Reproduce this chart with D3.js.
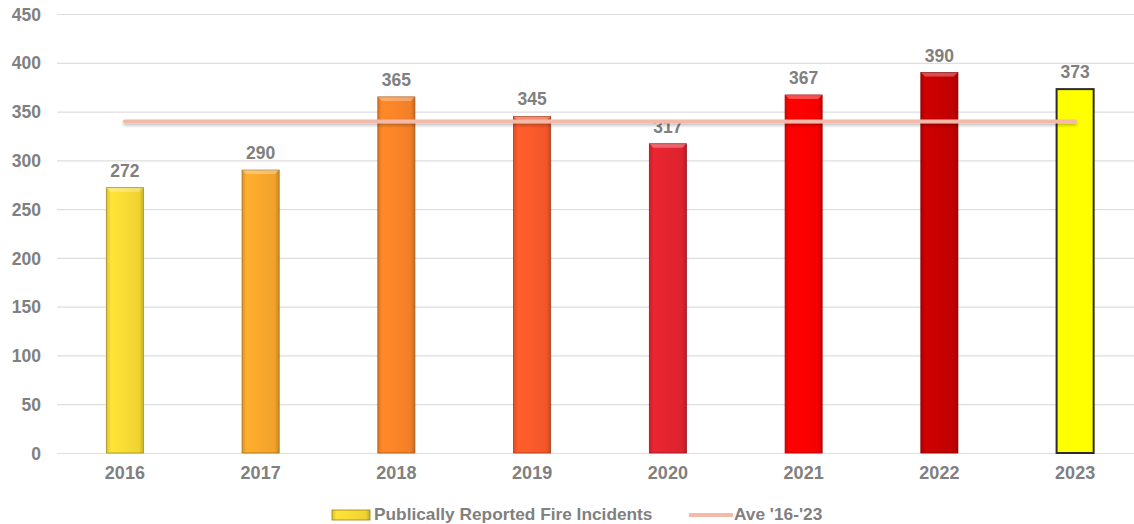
<!DOCTYPE html>
<html>
<head>
<meta charset="utf-8">
<script src="https://cdn.jsdelivr.net/npm/d3@7"></script>
<style>
  body { margin: 0; background: #fff; }
  svg text { font-family: "Liberation Sans", Arial, sans-serif; font-weight: bold; fill: #808080; }
</style>
</head>
<body>
<div class="chart"></div>
<script>
// data
const years = ["2016", "2017", "2018", "2019", "2020", "2021", "2022", "2023"];
const incidents = [272, 290, 365, 345, 317, 367, 390, 373];
const barColors = ["#f8dc34", "#f9a82c", "#fa8428", "#fb5a2a", "#e42430", "#fe0000", "#c80000", "#ffff00"];
const yTicks = [0, 50, 100, 150, 200, 250, 300, 350, 400, 450];
const seriesNames = ["Publically Reported Fire Incidents", "Ave '16-'23"];

const average = d3.mean(incidents);

const width = 1134, height = 524;
const plot = {left: 57, right: 1143, top: 14, bottom: 453};

const svg = d3.select(".chart").append("svg")
    .attr("width", width)
    .attr("height", height);

const x = d3.scaleBand()
    .domain(years)
    .range([plot.left, plot.right])
    .paddingInner(0.727)
    .paddingOuter(0.3635);

const y = d3.scaleLinear()
    .domain([0, 450])
    .range([plot.bottom, plot.top]);

const defs = svg.append("defs");

// cylinder-ish shading for each bar
barColors.forEach((c, i) => {
    const g = defs.append("linearGradient")
        .attr("id", "bar" + i)
        .attr("x1", "0%").attr("x2", "100%");
    const base = d3.color(c);
    g.append("stop").attr("offset", "0%").attr("stop-color", base.darker(0.35));
    g.append("stop").attr("offset", "12%").attr("stop-color", base.brighter(0.1));
    g.append("stop").attr("offset", "50%").attr("stop-color", base);
    g.append("stop").attr("offset", "88%").attr("stop-color", base.darker(0.1));
    g.append("stop").attr("offset", "100%").attr("stop-color", base.darker(0.6));
});

// a horizontal line has a zero-height bbox, so the filter region is in user space
const shadow = defs.append("filter").attr("id", "lineShadow")
    .attr("filterUnits", "userSpaceOnUse")
    .attr("x", 0).attr("y", 0).attr("width", width).attr("height", height);
shadow.append("feDropShadow")
    .attr("dx", 0).attr("dy", 2).attr("stdDeviation", 1.5)
    .attr("flood-color", "#000").attr("flood-opacity", 0.25);

// gridlines + y labels
const yAxis = d3.axisLeft(y)
    .tickValues(yTicks)
    .tickSize(-(width - plot.left))
    .tickPadding(16);

svg.append("g")
    .attr("class", "y axis")
    .attr("transform", "translate(" + plot.left + ",0)")
    .call(yAxis)
    .call(g => g.select(".domain").remove())
    .call(g => g.selectAll(".tick line").attr("stroke", "#dedede").attr("stroke-width", 1.2))
    .call(g => g.selectAll(".tick text").attr("font-size", "17.5px").attr("dy", "0.35em"));

// x labels
const xAxis = d3.axisBottom(x).tickSize(0).tickPadding(13);
svg.append("g")
    .attr("class", "x axis")
    .attr("transform", "translate(0," + plot.bottom + ")")
    .call(xAxis)
    .call(g => g.select(".domain").remove())
    .call(g => g.selectAll(".tick text").attr("font-size", "18px"));

// bars
const bar = svg.selectAll("g.bar")
    .data(years)
    .join("g")
    .attr("class", "bar");

bar.append("rect")
    .attr("x", d => x(d))
    .attr("y", (d, i) => y(incidents[i]))
    .attr("width", x.bandwidth())
    .attr("height", (d, i) => y(0) - y(incidents[i]))
    .attr("fill", (d, i) => i === 7 ? barColors[i] : "url(#bar" + i + ")")
    .attr("stroke", (d, i) => i === 7 ? "#2b2b2b" : d3.color(barColors[i]).darker(1.2))
    .attr("stroke-width", (d, i) => i === 7 ? 2 : 0.8);

// top bevel highlight
bar.filter((d, i) => i !== 7).append("path")
    .attr("d", (d, i) => {
        const x0 = x(d), x1 = x(d) + x.bandwidth(), t = y(incidents[i]);
        return `M${x0},${t}L${x1},${t}L${x1 - 4},${t + 4}L${x0 + 4},${t + 4}Z`;
    })
    .attr("fill", "#fff")
    .attr("fill-opacity", 0.3);

bar.append("text")
    .attr("x", d => x(d) + x.bandwidth() / 2)
    .attr("y", (d, i) => y(incidents[i]) - 11)
    .attr("text-anchor", "middle")
    .attr("font-size", "17.5px")
    .text((d, i) => incidents[i]);

// average line
const xc = d => x(d) + x.bandwidth() / 2;
svg.append("line")
    .attr("x1", xc(years[0]))
    .attr("x2", xc(years[years.length - 1]))
    .attr("y1", y(average))
    .attr("y2", y(average))
    .attr("stroke", "#f5b9a9")
    .attr("stroke-width", 4)
    .attr("stroke-linecap", "round")
    .attr("filter", "url(#lineShadow)");

// legend
const legend = svg.append("g").attr("class", "legend");
legend.append("rect")
    .attr("x", 332).attr("y", 510)
    .attr("width", 38).attr("height", 10)
    .attr("fill", "url(#bar0)")
    .attr("stroke", "#a07a10").attr("stroke-width", 0.8);
legend.append("text")
    .attr("x", 374).attr("y", 520)
    .attr("font-size", "17.3px")
    .text(seriesNames[0]);
legend.append("line")
    .attr("x1", 689).attr("x2", 733)
    .attr("y1", 515).attr("y2", 515)
    .attr("stroke", "#f5b9a9").attr("stroke-width", 4);
legend.append("text")
    .attr("x", 734).attr("y", 520)
    .attr("font-size", "17.3px")
    .text(seriesNames[1]);
</script>
</body>
</html>
